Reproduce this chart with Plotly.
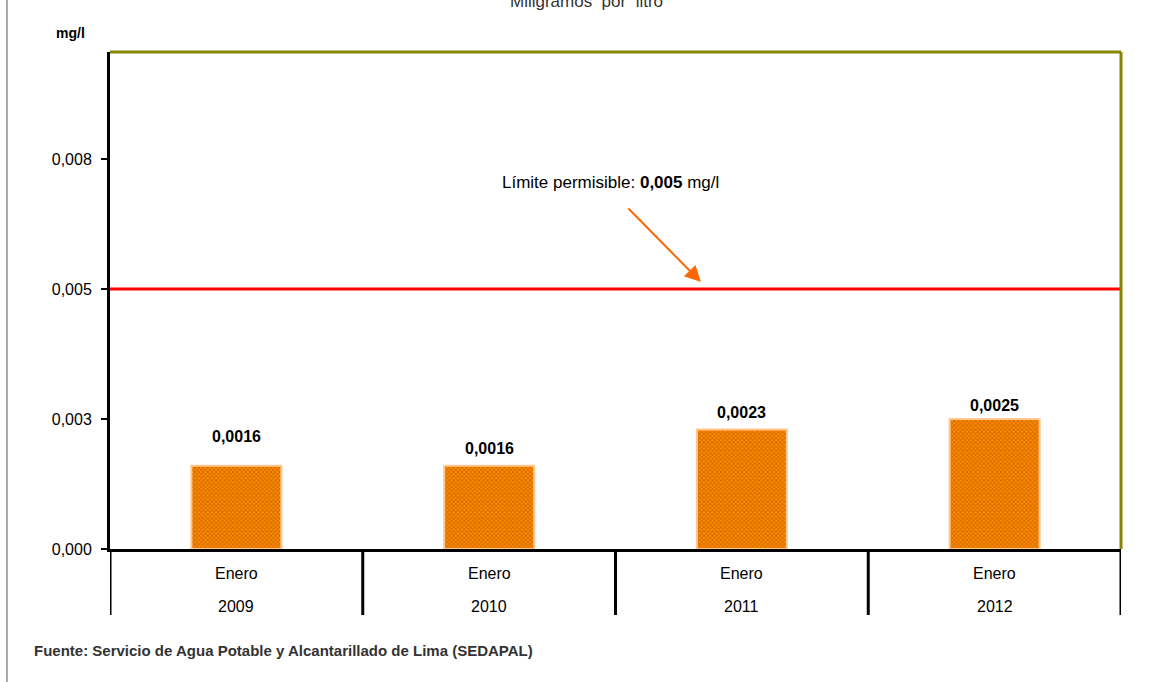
import plotly.graph_objects as go

# ---- data ----
years = ["2009", "2010", "2011", "2012"]
months = ["Enero", "Enero", "Enero", "Enero"]
values = [0.0016, 0.0016, 0.0023, 0.0025]
value_labels = ["0,0016", "0,0016", "0,0023", "0,0025"]
limit_value = 0.005
y_tickvals = [0, 0.0025, 0.005, 0.0075]
y_ticktext = ["0,000", "0,003", "0,005", "0,008"]
y_max = 0.00956

# label offsets (pixels above bar top)
label_shift = [29, 17, 17, 14]

FONT = "Liberation Sans, Arial, sans-serif"

xpos = list(range(len(years)))

fig = go.Figure()
fig.add_trace(go.Bar(
    x=xpos, y=values, width=0.356,
    marker=dict(
        color="#FF8C00",
        line=dict(color="#FFC890", width=2),
        pattern=dict(shape="x", size=3, fgcolor="#A84800", bgcolor="#FF8C00", solidity=0.5),
    ),
    hoverinfo="skip",
))

annotations = []
for i, (v, lab, sh) in enumerate(zip(values, value_labels, label_shift)):
    annotations.append(dict(x=i, y=v, xref="x", yref="y", text="<b>" + lab + "</b>",
                            showarrow=False, yanchor="middle", yshift=sh,
                            font=dict(size=16, color="#000000", family=FONT)))
for i, (yr, m) in enumerate(zip(years, months)):
    annotations.append(dict(x=i, y=0, xref="x", yref="paper", text=m, showarrow=False,
                            yanchor="middle", yshift=-24,
                            font=dict(size=16, color="#000000", family=FONT)))
    annotations.append(dict(x=i, y=0, xref="x", yref="paper", text=yr, showarrow=False,
                            yanchor="middle", yshift=-57,
                            font=dict(size=16, color="#000000", family=FONT)))

# limit text and arrow
annotations.append(dict(x=1.482, y=limit_value, xref="x", yref="y", yshift=107,
                        text="Límite permisible: <b>0,005</b> mg/l", showarrow=False,
                        font=dict(size=17, color="#000000", family=FONT)))
annotations.append(dict(x=1.838, y=limit_value, xref="x", yref="y", yshift=7,
                        text="", showarrow=True, ax=-74, ay=-75, axref="pixel", ayref="pixel",
                        arrowhead=2, arrowsize=1.6, arrowwidth=2, arrowcolor="#FF6600"))

# title (cut at top), unit label, source
annotations.append(dict(x=0.4718, y=1, xref="paper", yref="paper", yanchor="bottom", yshift=39,
                        text="Miligramos  por  litro", showarrow=False,
                        font=dict(size=17, color="#333333", family=FONT)))
annotations.append(dict(x=-0.0554, y=1.0584, xref="paper", yref="paper",
                        text="<b>mg/l</b>", showarrow=False,
                        font=dict(size=14, color="#000000", family=FONT)))
annotations.append(dict(x=-0.0768, y=0, xref="paper", yref="paper", xanchor="left", yanchor="middle",
                        yshift=-101, text="<b>Fuente: Servicio de Agua Potable y Alcantarillado de Lima (SEDAPAL)</b>",
                        showarrow=False, font=dict(size=15, color="#333333", family=FONT)))

shapes = [
    # limit line
    dict(type="line", xref="paper", yref="y", x0=0, x1=1, y0=limit_value, y1=limit_value,
         line=dict(color="#FF0000", width=3)),
    # olive frame top / right
    dict(type="line", xref="paper", yref="paper", x0=0, x1=1, y0=1, y1=1,
         line=dict(color="#858500", width=3)),
    dict(type="line", xref="paper", yref="paper", x0=1, x1=1, y0=0, y1=1,
         line=dict(color="#858500", width=3)),
    # outer left frame line
    dict(type="line", xref="paper", yref="paper", x0=-0.1019, x1=-0.1019, y0=-0.3, y1=1.2,
         line=dict(color="#555555", width=1)),
]
for xd in [-0.5, 0.5, 1.5, 2.5, 3.5]:
    shapes.append(dict(type="line", xref="x", yref="paper", x0=xd, x1=xd, y0=0, y1=-0.1328,
                       line=dict(color="#000000", width=3)))

fig.update_layout(
    width=1152, height=682,
    margin=dict(l=110, r=31, t=52, b=133),
    paper_bgcolor="white", plot_bgcolor="white",
    showlegend=False,
    font=dict(family=FONT, size=16, color="#000000"),
    annotations=annotations, shapes=shapes,
    xaxis=dict(range=[-0.5, 3.5], showline=True, linecolor="#000000", linewidth=3,
               showticklabels=False, ticks="", showgrid=False, zeroline=False, fixedrange=True),
    yaxis=dict(range=[0, y_max], tickvals=y_tickvals, ticktext=y_ticktext, showline=True,
               linecolor="#000000", linewidth=3, ticks="outside", ticklen=6, tickwidth=2,
               tickcolor="#000000", showgrid=False, zeroline=False, ticklabelstandoff=6,
               tickfont=dict(size=16, color="#000000", family=FONT), fixedrange=True),
)

fig.write_html("out.html", config={"displayModeBar": False},
               post_script="document.body.style.margin='0';")
